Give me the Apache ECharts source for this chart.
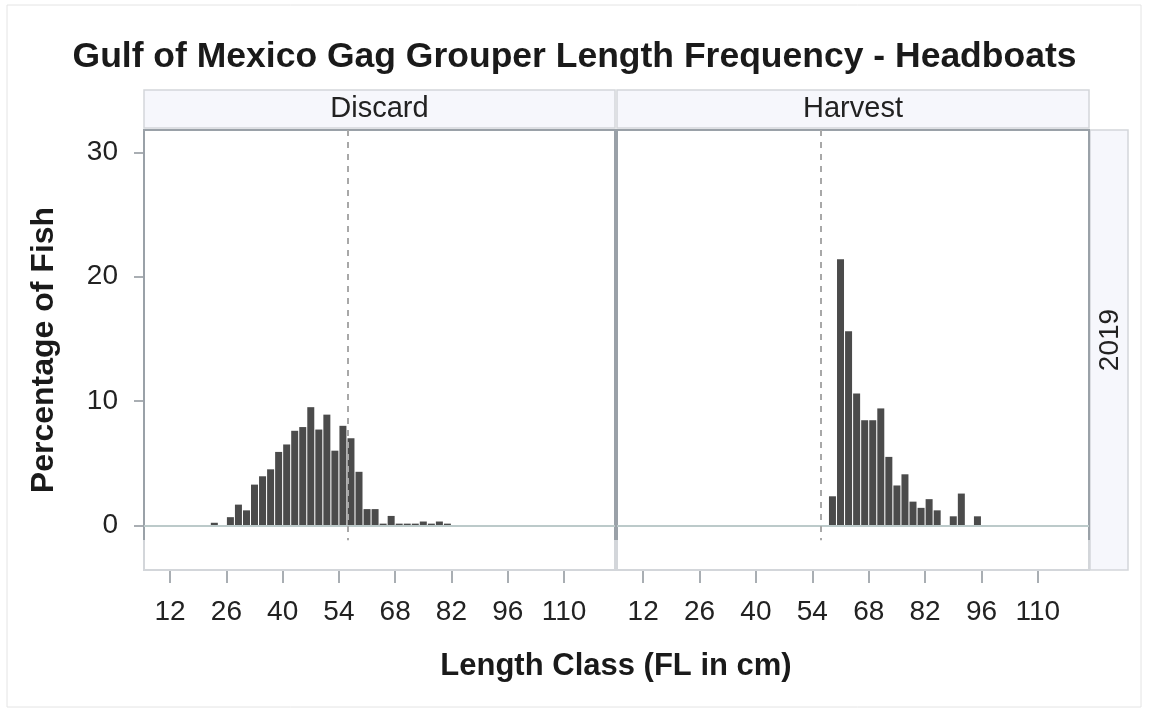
<!DOCTYPE html>
<html>
<head>
<meta charset="utf-8">
<title>Gulf of Mexico Gag Grouper Length Frequency - Headboats</title>
<script src="https://cdn.jsdelivr.net/npm/echarts@6/dist/echarts.min.js"></script>
<style>
  html, body { margin: 0; padding: 0; background: #ffffff; }
  #chart { width: 1149px; height: 713px; }
</style>
</head>
<body>
<div id="chart"></div>
<script>
// Length-class midpoints (FL, cm) and percentage of fish per 2 cm bin
const discardLength = [23, 25, 27, 29, 31, 33, 35, 37, 39, 41, 43, 45, 47, 49, 51, 53, 55, 57, 59, 61, 63, 65, 67, 69, 71, 73, 75, 77, 79, 81];
const discardPct    = [0.2, 0, 0.65, 1.66, 1.2, 3.27, 3.94, 4.5, 5.9, 6.5, 7.6, 7.9, 9.5, 7.7, 8.9, 6.0, 8.0, 7.0, 4.3, 1.3, 1.3, 0.13, 0.75, 0.13, 0.13, 0.13, 0.3, 0.13, 0.3, 0.13];

const harvestLength = [59, 61, 63, 65, 67, 69, 71, 73, 75, 77, 79, 81, 83, 85, 87, 89, 91, 93, 95];
const harvestPct    = [2.33, 21.4, 15.6, 10.6, 8.45, 8.45, 9.4, 5.5, 3.2, 4.1, 1.9, 1.4, 2.1, 1.2, 0, 0.72, 2.55, 0, 0.72];

// Minimum size reference (FL, cm), tick labels and facet labels
const sizeLimit = 56.2;
const xTickValues = [12, 26, 40, 54, 68, 82, 96, 110];
const yTickValues = [0, 10, 20, 30];
const panelNames = ['Discard', 'Harvest'];
const rowName = '2019';

const FONT = '"Liberation Sans", Arial, sans-serif';
const X_MIN = 5.5, X_MAX = 122.7;
const Y_MIN = -3.6, Y_MAX = 31.8;

// Panel geometry (pixels)
const P = [
  { left: 144, width: 471 },
  { left: 617, width: 472 }
];
const TOP = 130, HEIGHT = 440, DARK_BOTTOM = 540;
const STRIP_TOP = 90, STRIP_H = 38;
const SIDE_LEFT = 1090, SIDE_W = 38;

const DARK = '#9aa1a8', LIGHT = '#d3d6da', STRIP_FILL = '#f6f7fc';
const TEXT = '#222222';

function xAxisFor(i) {
  return {
    type: 'value', gridIndex: i, min: X_MIN, max: X_MAX,
    axisLine: { show: false, onZero: false },
    splitLine: { show: false },
    axisTick: { show: true, customValues: xTickValues, length: 13, lineStyle: { color: '#a9aeb3', width: 2 } },
    axisLabel: { show: true, customValues: xTickValues, fontSize: 28, fontFamily: FONT, color: TEXT, margin: 28 }
  };
}

function yAxisFor(i) {
  const first = i === 0;
  return {
    type: 'value', gridIndex: i, min: Y_MIN, max: Y_MAX,
    name: first ? 'Percentage of Fish' : '',
    nameLocation: 'middle', nameRotate: 90, nameGap: 84,
    nameTextStyle: { fontSize: 32, fontWeight: 'bold', fontFamily: FONT, color: '#1a1a1a' },
    axisLine: { show: false },
    splitLine: { show: false },
    axisTick: { show: first, customValues: yTickValues, length: 10, lineStyle: { color: '#a9aeb3', width: 2 } },
    axisLabel: { show: first, customValues: yTickValues, fontSize: 28, fontFamily: FONT, color: TEXT, margin: 26 }
  };
}

function histSeries(i, lengths, pct) {
  return {
    type: 'bar', xAxisIndex: i, yAxisIndex: i,
    data: lengths.map((x, k) => [x, pct[k]]),
    barWidth: 7,
    itemStyle: { color: '#4b4b4b' },
    silent: true,
    markLine: {
      silent: true, symbol: 'none', label: { show: false }, animation: false,
      data: [
        [
          { coord: [X_MIN, 0], lineStyle: { type: 'solid', color: '#bccaca', width: 2 } },
          { coord: [X_MAX, 0] }
        ],
        [
          { coord: [sizeLimit, 31.8], lineStyle: { type: [6, 6], color: '#a8a8a8', width: 2 } },
          { coord: [sizeLimit, -1.2] }
        ]
      ]
    }
  };
}

// Facet strips, frames and shared axis title
const graphics = [];
graphics.push({
  type: 'rect', shape: { x: 7, y: 5, width: 1134, height: 702 },
  style: { fill: 'none', stroke: '#e4e4e4', lineWidth: 1 }, z: 0
});
P.forEach((p, i) => {
  graphics.push({
    type: 'rect', shape: { x: p.left, y: STRIP_TOP, width: p.width, height: STRIP_H },
    style: { fill: STRIP_FILL, stroke: LIGHT, lineWidth: 1.5 }, z: 1
  });
  graphics.push({
    type: 'text', x: p.left + p.width / 2, y: STRIP_TOP + STRIP_H / 2,
    style: { text: panelNames[i], fontSize: 29, fontFamily: FONT, fill: TEXT, align: 'center', verticalAlign: 'middle' }, z: 2
  });
  // light outer box of the cell
  graphics.push({
    type: 'rect', shape: { x: p.left, y: TOP, width: p.width, height: HEIGHT },
    style: { fill: 'none', stroke: LIGHT, lineWidth: 2 }, z: 3
  });
  // darker data-area frame
  graphics.push({
    type: 'polyline', shape: { points: [[p.left, DARK_BOTTOM], [p.left, TOP], [p.left + p.width, TOP], [p.left + p.width, DARK_BOTTOM]] },
    style: { fill: 'none', stroke: DARK, lineWidth: 2 }, z: 4
  });
});
graphics.push({
  type: 'rect', shape: { x: SIDE_LEFT, y: TOP, width: SIDE_W, height: HEIGHT },
  style: { fill: STRIP_FILL, stroke: LIGHT, lineWidth: 1.5 }, z: 1
});
graphics.push({
  type: 'text', x: SIDE_LEFT + SIDE_W / 2 + 1, y: 340, rotation: Math.PI / 2,
  style: { text: rowName, fontSize: 28, fontFamily: FONT, fill: TEXT, align: 'center', verticalAlign: 'middle' }, z: 2
});
graphics.push({
  type: 'text', x: 616, y: 666,
  style: { text: 'Length Class (FL in cm)', fontSize: 31, fontWeight: 'bold', fontFamily: FONT, fill: '#1a1a1a', align: 'center', verticalAlign: 'middle' }, z: 2
});

const chart = echarts.init(document.getElementById('chart'), null, { renderer: 'canvas' });
chart.setOption({
  animation: false,
  backgroundColor: '#ffffff',
  title: {
    text: 'Gulf of Mexico Gag Grouper Length Frequency - Headboats',
    left: 'center', top: 34,
    textStyle: { fontSize: 35.5, fontWeight: 'bold', fontFamily: FONT, color: '#1a1a1a' }
  },
  grid: P.map(p => ({ left: p.left, top: TOP, width: p.width, height: HEIGHT, containLabel: false })),
  xAxis: [xAxisFor(0), xAxisFor(1)],
  yAxis: [yAxisFor(0), yAxisFor(1)],
  series: [
    histSeries(0, discardLength, discardPct),
    histSeries(1, harvestLength, harvestPct)
  ],
  graphic: graphics
});
</script>
</body>
</html>
